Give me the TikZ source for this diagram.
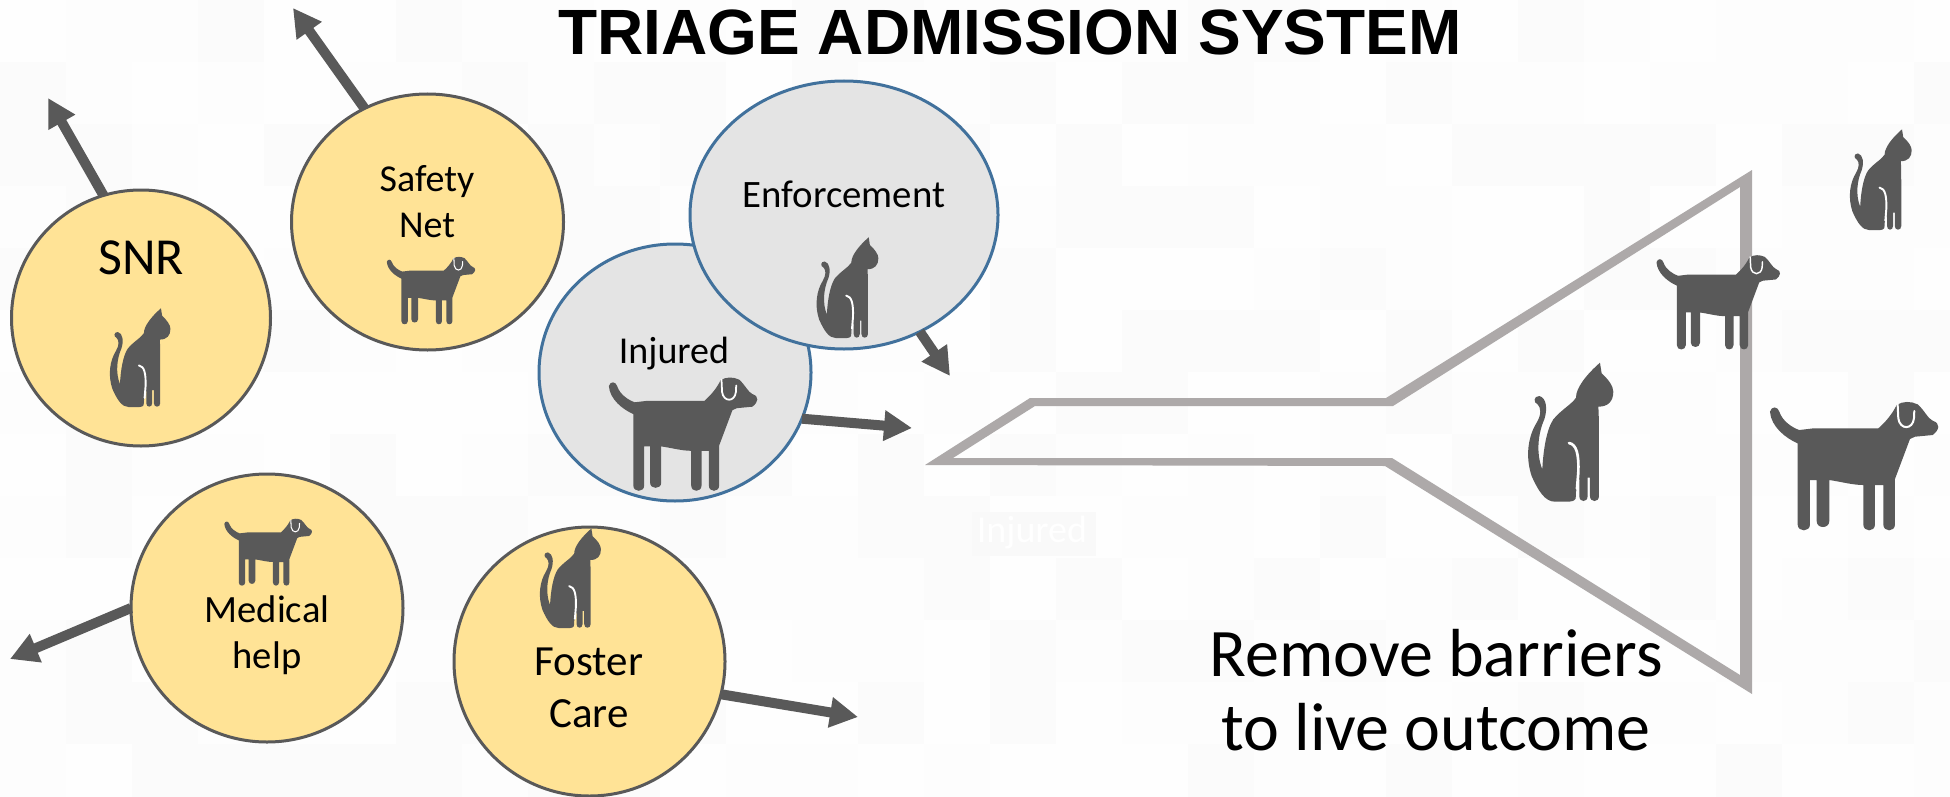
\documentclass[tikz,border=0pt]{standalone}
\usepackage{fontspec}
\setmainfont{Carlito}
\newfontfamily\titlefont{Liberation Sans}
\usetikzlibrary{shapes.geometric,arrows.meta}
\definecolor{iconc}{HTML}{595959}
\definecolor{yellowc}{HTML}{FFE396}
\definecolor{grayc}{HTML}{E4E4E4}
\definecolor{bluec}{HTML}{41719C}
\definecolor{funnelc}{HTML}{ADA9A9}
\definecolor{bgc}{HTML}{FDFDFD}
\definecolor{bgdark}{HTML}{FBFBFB}
\definecolor{bglight}{HTML}{FEFEFE}
\definecolor{ghostbg}{HTML}{F9F9F9}
\tikzset{
  blob/.style={ellipse,draw,line width=3pt,inner sep=0pt,outer sep=0pt},
  yellowblob/.style={blob,fill=yellowc,draw=iconc},
  grayblob/.style={blob,fill=grayc,draw=bluec},
  flowarrow/.style={draw=iconc,line width=10pt,-{Triangle[width=29pt,length=28pt]}},
  label/.style={inner sep=0pt,align=center,text=black}
}
\newcommand{\dogicon}[3]{%
\begin{scope}[shift={(#1,#2)},scale=#3,x=1pt,y=-1pt]
\fill[iconc] (2,30) .. controls (6,12) and (26,14) .. (30,30) .. controls (40,60) and (70,78) .. (90,85)
 -- (132,80) -- (327,80) .. controls (350,60) and (370,35) .. (382,10) .. controls (400,-2) and (425,-2) .. (445,8)
 .. controls (465,25) and (475,50) .. (490,57) .. controls (515,65) and (510,85) .. (490,100) -- (437,105) -- (422,112)
 -- (377,232) -- (377,368) .. controls (377,392) and (342,392) .. (342,368) -- (342,250) -- (317,250) -- (317,368)
 .. controls (317,392) and (282,392) .. (282,368) -- (282,250) .. controls (250,250) and (215,240) .. (180,235)
 -- (180,358) .. controls (180,382) and (142,382) .. (142,358) -- (142,235) -- (122,235) -- (122,368)
 .. controls (122,392) and (85,392) .. (85,368) -- (85,125) .. controls (50,110) and (5,75) .. (2,30) -- cycle;
\draw[white,line width=#3*6pt,line cap=round] (385,8) -- (387,50) .. controls (392,85) and (430,85) .. (434,50) -- (435,28);
\end{scope}}
\newcommand{\caticon}[3]{%
\begin{scope}[shift={(#1,#2)},scale=#3,x=1pt,y=-1pt]
\fill[iconc] (215,0) -- (220,32) .. controls (240,50) and (255,70) .. (255,87) .. controls (255,115) and (240,132) .. (210,132)
 .. controls (212,160) and (212,180) .. (212,400) .. controls (212,420) and (185,420) .. (185,400) -- (185,345)
 -- (178,345) -- (178,400) .. controls (178,420) and (153,420) .. (153,400) -- (153,345)
 .. controls (150,370) and (140,385) .. (143,398) .. controls (145,417) and (130,417) .. (110,417)
 -- (80,417) .. controls (50,417) and (30,385) .. (10,340) .. controls (-10,280) and (0,220) .. (25,180)
 .. controls (40,155) and (38,135) .. (28,125) .. controls (15,120) and (15,100) .. (33,100)
 .. controls (55,105) and (58,140) .. (48,170) .. controls (30,210) and (22,270) .. (42,320)
 .. controls (45,260) and (55,200) .. (75,170) .. controls (100,140) and (130,125) .. (143,105)
 .. controls (143,75) and (175,35) .. (215,0) -- cycle;
\draw[white,line width=#3*8pt,line cap=round] (122,241) .. controls (145,245) and (152,275) .. (150,330) -- (146,378);
\end{scope}}
\begin{document}
\begin{tikzpicture}[x=1pt,y=-1pt]
\useasboundingbox (0,0) rectangle (1950,797);
\fill[bgc] (0,0) rectangle (1950,797);
% faint mottled background
\pgfmathsetseed{7}
\foreach \i in {0,...,29}{\foreach \j in {0,...,12}{
  \pgfmathsetmacro{\tone}{rnd}
  \ifdim\tone pt<0.3pt \fill[bgdark] (\i*66,\j*62) rectangle (\i*66+66,\j*62+62);\fi
  \ifdim\tone pt>0.7pt \fill[bglight] (\i*66,\j*62) rectangle (\i*66+66,\j*62+62);\fi
}}
% funnel
\fill[funnelc,even odd rule] (925,465) -- (1030,398) -- (1386,398) -- (1752,170) -- (1752,694) -- (1385,466) -- cycle
 (953,458) -- (1035,406) -- (1393,406) -- (1740,187) -- (1740,675) -- (1392,458) -- cycle;
\fill[ghostbg] (972,512) rectangle (1096,556);
\node[text=white,inner sep=0pt,font=\fontsize{38}{38}\selectfont] (ghost) at (1032,533) {Injured};
% circles
\node[yellowblob,minimum width=259pt,minimum height=256pt] (snr) at (141,318) {};
\node[yellowblob,minimum width=272pt,minimum height=256pt] (safety) at (427.5,222) {};
\node[grayblob,minimum width=272pt,minimum height=257pt] (injured) at (675,372.5) {};
\node[grayblob,minimum width=308pt,minimum height=268pt] (enforce) at (844,215) {};
\node[yellowblob,minimum width=272pt,minimum height=268pt] (medical) at (267,608) {};
\node[yellowblob,minimum width=271pt,minimum height=269pt] (foster) at (589.5,661.5) {};
% free ends
\coordinate (snrEnd) at (48,98);
\coordinate (safetyEnd) at (293,8);
\coordinate (injuredEnd) at (912,428);
\coordinate (enforceEnd) at (950,376);
\coordinate (medicalEnd) at (10,659);
\coordinate (fosterEnd) at (858,717);
% arrows
\draw[flowarrow] (snr.107.7) -- (snrEnd);
\draw[flowarrow] (safety.119.5) -- (safetyEnd);
\draw[flowarrow] (injured.-20) -- (injuredEnd);
\draw[flowarrow] (enforce.-57.1) -- (enforceEnd);
\draw[flowarrow] (medical.180) -- (medicalEnd);
\draw[flowarrow] (foster.-14.3) -- (fosterEnd);
% icons
\caticon{110}{308.3}{.237}
\dogicon{386.5}{256.7}{.175}
\caticon{816.7}{237.3}{.2418}
\dogicon{608.3}{377.3}{.294}
\dogicon{224}{518.6}{.1736}
\caticon{540}{528.5}{.239}
\caticon{1850}{129.3}{.2418}
\dogicon{1656}{255}{.2446}
\caticon{1528.3}{362.7}{.3333}
\dogicon{1769.3}{401.7}{.3333}
% text
\node[label,font=\titlefont\bfseries\fontsize{64}{64}\selectfont] (title) at (1010,32) {TRIAGE ADMISSION SYSTEM};
\node[label,font=\fontsize{52}{52}\selectfont] (snrT) at (141,258) {SNR};
\node[label,font=\fontsize{38}{46}\selectfont] (safetyT) at (427,202) {Safety\\Net};
\node[label,font=\fontsize{38}{38}\selectfont] (injuredT) at (674,354) {Injured};
\node[label,font=\fontsize{38.8}{38.8}\selectfont] (enforceT) at (844,194) {Enforcement};
\node[label,font=\fontsize{38.6}{46}\selectfont] (medicalT) at (267,635) {Medical\\help};
\node[label,font=\fontsize{43}{52}\selectfont] (fosterT) at (589,688) {Foster\\Care};
\node[label,font=\fontsize{68}{74.5}\selectfont] (removeT) at (1436,690) {Remove barriers\\to live outcome};
\end{tikzpicture}
\end{document}
